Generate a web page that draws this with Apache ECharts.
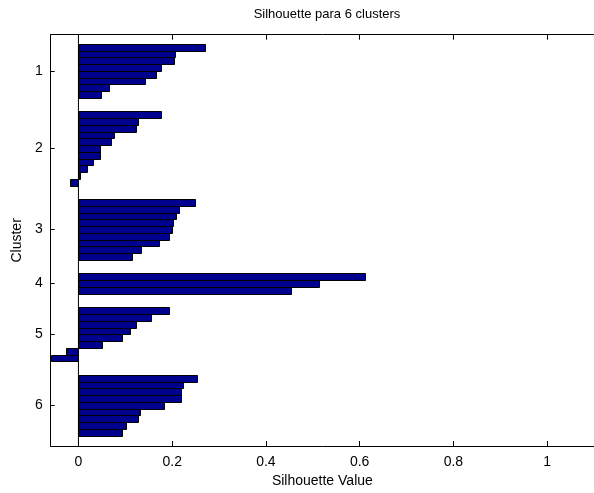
<!DOCTYPE html>
<html>
<head>
<meta charset="utf-8">
<script src="https://cdn.jsdelivr.net/npm/echarts@6/dist/echarts.min.js"></script>
<style>
html,body{margin:0;padding:0;background:#fff;}
#chart{width:594px;height:493px;}
</style>
</head>
<body>
<div id="chart"></div>
<script>
// Silhouette values per cluster (sorted descending, as in the plot)
const clusterNames = ['1', '2', '3', '4', '5', '6'];
const cluster1 = [0.269, 0.206, 0.203, 0.176, 0.165, 0.142, 0.066, 0.048];
const cluster2 = [0.176, 0.128, 0.123, 0.075, 0.069, 0.045, 0.045, 0.032, 0.018, 0.004, -0.017];
const cluster3 = [0.249, 0.214, 0.209, 0.201, 0.199, 0.194, 0.172, 0.134, 0.115];
const cluster4 = [0.612, 0.513, 0.454];
const cluster5 = [0.194, 0.155, 0.123, 0.110, 0.093, 0.051, -0.027, -0.058];
const cluster6 = [0.252, 0.224, 0.218, 0.218, 0.182, 0.131, 0.128, 0.101, 0.093];
const xTicks = [0, 0.2, 0.4, 0.6, 0.8, 1];

const clusters = [cluster1, cluster2, cluster3, cluster4, cluster5, cluster6];
const space = 2;
// build bar positions (MATLAB silhouette layout: gaps of `space` rows between clusters)
const barData = [];
const centers = [];
let pos = space;
clusters.forEach(function (vals) {
  const start = pos + 1;
  vals.forEach(function (v) { pos += 1; barData.push([v, pos]); });
  centers.push((start + pos) / 2);
  pos += space;
});

const font = "'Liberation Sans', Arial, sans-serif";
const chart = echarts.init(document.getElementById('chart'));
chart.setOption({
  animation: false,
  backgroundColor: '#fff',
  title: {
    text: 'Silhouette para 6 clusters',
    left: 322, top: 3, textAlign: 'center',
    textStyle: {fontFamily: font, fontSize: 13, fontWeight: 'normal', color: '#000'}
  },
  grid: {left: 50.7, top: 34.7, right: -5, bottom: 44.7, containLabel: false},
  xAxis: [{
    type: 'value', position: 'bottom', min: -0.0592, max: 1.1,
    name: 'Silhouette Value', nameLocation: 'middle', nameGap: 28,
    nameTextStyle: {fontFamily: font, fontSize: 14, color: '#000'},
    axisLine: {show: true, lineStyle: {color: '#000', width: 1}},
    axisTick: {show: true, inside: true, length: 5, customValues: xTicks, lineStyle: {color: '#000'}},
    axisLabel: {customValues: xTicks, margin: 9, fontFamily: font, fontSize: 14, color: '#000'},
    splitLine: {show: false}
  }, {
    type: 'value', position: 'top', min: -0.0592, max: 1.1,
    axisLine: {show: true, onZero: false, lineStyle: {color: '#000', width: 1}},
    axisTick: {show: true, inside: true, length: 5, customValues: xTicks, lineStyle: {color: '#000'}},
    axisLabel: {show: false},
    splitLine: {show: false}
  }],
  yAxis: {
    type: 'value', inverse: true, min: 1.16, max: 62.03,
    name: 'Cluster', nameLocation: 'middle', nameGap: 27,
    nameTextStyle: {fontFamily: font, fontSize: 14, color: '#000'},
    axisLine: {show: true, onZero: false, lineStyle: {color: '#000', width: 1}},
    axisTick: {show: true, inside: true, length: 4, customValues: centers, lineStyle: {color: '#000'}},
    axisLabel: {
      customValues: centers, margin: 8, fontFamily: font, fontSize: 14, color: '#000',
      formatter: function (v) {
        for (let i = 0; i < centers.length; i++) if (Math.abs(centers[i] - v) < 1e-6) return clusterNames[i];
        return '';
      }
    },
    splitLine: {show: false}
  },
  series: [{
    type: 'custom',
    xAxisIndex: 0,
    data: barData,
    encode: {x: 0, y: 1},
    renderItem: function (params, api) {
      const v = api.value(0), p = api.value(1);
      const a = api.coord([0, p - 0.5]);
      const b = api.coord([v, p + 0.5]);
      const x0 = Math.round(Math.min(a[0], b[0])) + 0.5;
      const x1 = Math.round(Math.max(a[0], b[0])) + 0.5;
      const y0 = Math.round(Math.min(a[1], b[1])) + 0.5;
      const y1 = Math.round(Math.max(a[1], b[1])) + 0.5;
      return {
        type: 'rect',
        shape: {x: x0, y: y0, width: x1 - x0, height: y1 - y0},
        style: {fill: '#00008f', stroke: '#000', lineWidth: 1}
      };
    }
  }, {
    type: 'line',
    xAxisIndex: 0,
    data: [[0, 1.16], [0, 62.03]],
    symbol: 'none', silent: true,
    lineStyle: {color: '#000', width: 1}
  }]
});
</script>
</body>
</html>
